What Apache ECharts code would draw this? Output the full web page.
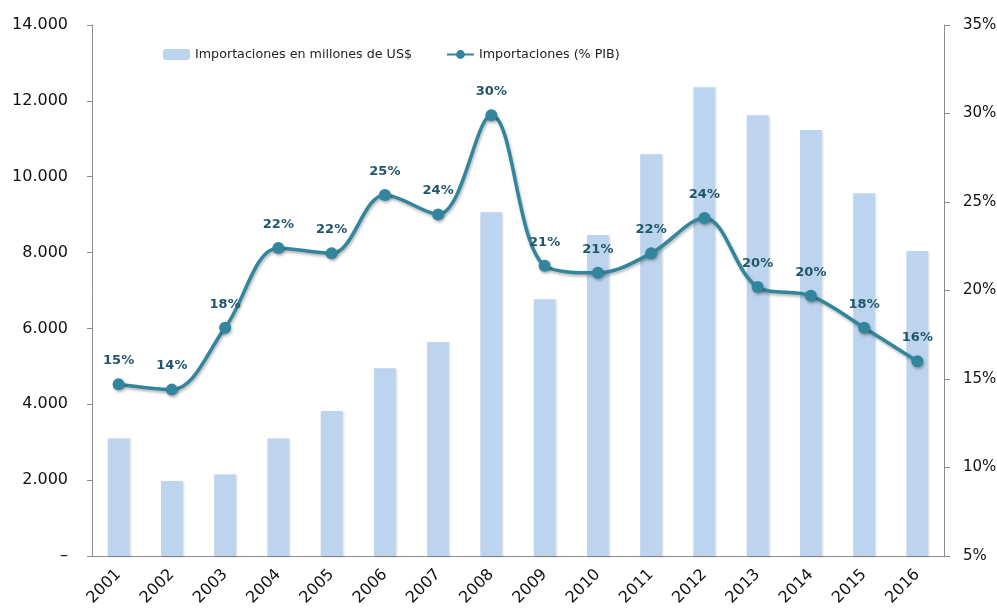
<!DOCTYPE html>
<html>
<head>
<meta charset="utf-8">
<script src="https://cdn.jsdelivr.net/npm/echarts@6/dist/echarts.min.js"></script>
<style>
	html, body { margin: 0; padding: 0; background: #fff; }
	#chart { width: 997px; height: 609px; }
</style>
</head>
<body>
<div id="chart"></div>
<script>
var years = ['2001', '2002', '2003', '2004', '2005', '2006', '2007', '2008',
	'2009', '2010', '2011', '2012', '2013', '2014', '2015', '2016'];
// millones de US$
var importaciones = [3100, 1980, 2150, 3100, 3820, 4950, 5640, 9060,
	6770, 8460, 10590, 12360, 11620, 11230, 9560, 8040];
// % del PIB
var importacionesPib = [14.7, 14.4, 17.9, 22.4, 22.1, 25.4, 24.3, 29.9,
	21.4, 21.0, 22.1, 24.1, 20.2, 19.7, 17.9, 16.0];

var nombreBarras = 'Importaciones en millones de US$';
var nombreLinea = 'Importaciones (% PIB)';

function formatMiles(value) {
	if (value === 0) {
		return '–';
	}
	return String(value).replace(/\B(?=(\d{3})+(?!\d))/g, '.');
}

var fuente = 'DejaVu Sans';
var axisGray = '#8c8c8c';
var myChart = echarts.init(document.getElementById('chart'));

myChart.setOption({
	animation : false,
	textStyle : {
		fontFamily : fuente
	},
	legend : {
		left : 158,
		top : 43,
		itemWidth : 27,
		itemHeight : 11,
		itemGap : 34,
		textStyle : {
			fontFamily : fuente,
			fontSize : 12.7,
			color : '#222'
		},
		data : [ nombreBarras, nombreLinea ]
	},
	grid : {
		left : 92,
		right : 53,
		top : 25,
		bottom : 53,
		outerBoundsMode : 'none'
	},
	xAxis : {
		type : 'category',
		data : years,
		boundaryGap : true,
		axisLine : {
			lineStyle : { color : axisGray }
		},
		axisTick : {
			length : 5,
			lineStyle : { color : axisGray }
		},
		axisLabel : {
			rotate : 45,
			fontFamily : fuente,
			fontSize : 16,
			color : '#111',
			margin : 16,
			interval : 0
		}
	},
	yAxis : [ {
		type : 'value',
		min : 0,
		max : 14000,
		interval : 2000,
		splitLine : { show : false },
		axisLine : {
			show : true,
			lineStyle : { color : axisGray }
		},
		axisTick : {
			show : true,
			length : 5,
			lineStyle : { color : axisGray }
		},
		axisLabel : {
			fontFamily : fuente,
			fontSize : 16,
			color : '#111',
			margin : 24,
			formatter : formatMiles
		}
	}, {
		type : 'value',
		min : 5,
		max : 35,
		interval : 5,
		splitLine : { show : false },
		axisLine : {
			show : true,
			lineStyle : { color : axisGray }
		},
		axisTick : {
			show : true,
			length : 6,
			lineStyle : { color : axisGray }
		},
		axisLabel : {
			fontFamily : fuente,
			fontSize : 15,
			color : '#111',
			margin : 19,
			formatter : '{value}%'
		}
	} ],
	series : [ {
		name : nombreBarras,
		type : 'bar',
		yAxisIndex : 0,
		barWidth : '41%',
		data : importaciones,
		itemStyle : {
			color : '#bdd4ee',
			shadowBlur : 2,
			shadowColor : 'rgba(0, 0, 0, 0.15)',
			shadowOffsetX : 1,
			shadowOffsetY : 1
		}
	}, {
		name : nombreLinea,
		type : 'line',
		yAxisIndex : 1,
		data : importacionesPib,
		smooth : 0.35,
		symbol : 'circle',
		symbolSize : 12,
		lineStyle : {
			width : 3.5,
			color : '#31869d',
			shadowBlur : 3,
			shadowColor : 'rgba(0, 0, 0, 0.3)',
			shadowOffsetX : 1,
			shadowOffsetY : 2
		},
		itemStyle : {
			color : '#31869d',
			shadowBlur : 3,
			shadowColor : 'rgba(0, 0, 0, 0.3)',
			shadowOffsetX : 1,
			shadowOffsetY : 2
		},
		label : {
			show : true,
			position : 'top',
			distance : 11,
			fontFamily : fuente,
			fontSize : 13,
			fontWeight : 'bold',
			color : '#1f566a',
			formatter : function(p) {
				return Math.round(p.value) + '%';
			}
		}
	} ]
});
</script>
</body>
</html>
